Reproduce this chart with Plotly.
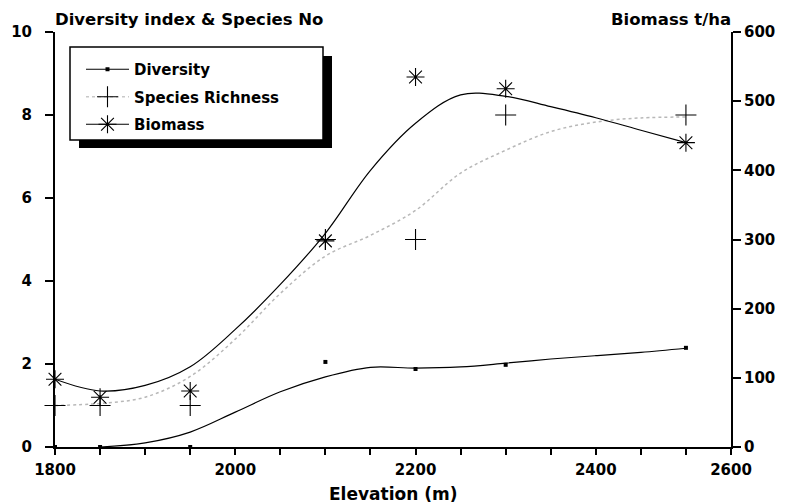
import plotly.graph_objects as go

# Observed values
elevation = [1800, 1850, 1950, 2100, 2200, 2300, 2500]
diversity = [0, 0, 0, 2.05, 1.88, 1.98, 2.39]
species_richness = [1, 1, 1, 5, 5, 8, 8]
biomass = [98, 72, 81, 298, 535, 518, 440]

# Fitted curves
curve_elev = [1800, 1850, 1900, 1950, 2000, 2050, 2100, 2150, 2200, 2250, 2300, 2350, 2400, 2450, 2500]
diversity_fit = [None, 0, 0.1, 0.36, 0.84, 1.33, 1.69, 1.92, 1.9, 1.93, 2.02, 2.12, 2.2, 2.28, 2.38]
species_fit = [1.0, 1.05, 1.2, 1.7, 2.6, 3.7, 4.6, 5.1, 5.7, 6.6, 7.15, 7.6, 7.83, 7.93, 7.95]
biomass_fit = [98, 81, 89, 116, 170, 235, 309, 400, 468, 509, 507, 492, 476, 458, 440]

x_tickvals = [1800, 1850, 1900, 1950, 2000, 2050, 2100, 2150, 2200, 2250, 2300, 2350, 2400, 2450, 2500, 2550]
x_ticktext = ["1800", "", "", "", "2000", "", "", "", "2200", "", "", "", "2400", "", "", "2600"]

FONT = "DejaVu Sans"
tickfont = dict(family=FONT, size=15, color="black", weight="bold")

# the page body has an 8px margin; compensate so the plot lands where the reference has it
OFF = 8

fig = go.Figure()

# curves
fig.add_trace(go.Scatter(x=curve_elev, y=species_fit, mode="lines", line=dict(color="#b8b8b8", width=1.5, dash="dot", shape="spline"), showlegend=False, hoverinfo="skip"))
fig.add_trace(go.Scatter(x=curve_elev, y=diversity_fit, mode="lines", line=dict(color="black", width=1.2, shape="spline"), showlegend=False, hoverinfo="skip"))
fig.add_trace(go.Scatter(x=curve_elev, y=biomass_fit, mode="lines", yaxis="y2", line=dict(color="black", width=1.2, shape="spline"), showlegend=False, hoverinfo="skip"))

# points
fig.add_trace(go.Scatter(x=elevation, y=diversity, mode="markers", marker=dict(symbol="square", size=4, color="black"), showlegend=False, cliponaxis=False))
fig.add_trace(go.Scatter(x=elevation, y=species_richness, mode="markers", marker=dict(symbol="cross-thin-open", size=15, color="black", line=dict(color="black", width=1.1)), showlegend=False, cliponaxis=False))
fig.add_trace(go.Scatter(x=elevation, y=biomass, mode="markers", yaxis="y2", marker=dict(symbol="asterisk-open", size=15, color="black", line=dict(color="black", width=1.1)), showlegend=False, cliponaxis=False))

# legend entries
fig.add_trace(go.Scatter(x=[None], y=[None], mode="lines+markers", name="Diversity", legendgroup="a",
                         line=dict(color="black", width=1.2), marker=dict(symbol="square", size=4, color="black")))
fig.add_trace(go.Scatter(x=[None], y=[None], mode="lines+markers", name="Species Richness", legendgroup="b",
                         line=dict(color="#c8c8c8", width=1.5, dash="dot"), marker=dict(symbol="cross-thin-open", size=15, color="black", line=dict(color="black", width=1.1))))
fig.add_trace(go.Scatter(x=[None], y=[None], mode="lines+markers", name="Biomass", legendgroup="c",
                         line=dict(color="black", width=1.2), marker=dict(symbol="asterisk-open", size=15, color="black", line=dict(color="black", width=1.1))))

def px_x(p):
    return (p - 55) / 676.0

def px_y(p):
    return (447 - p) / 415.0

shapes = [
    dict(type="rect", xref="paper", yref="paper", x0=px_x(79), x1=px_x(332), y0=px_y(148), y1=px_y(56),
         fillcolor="black", line=dict(width=0), layer="above"),
    dict(type="rect", xref="paper", yref="paper", x0=px_x(70), x1=px_x(323), y0=px_y(140), y1=px_y(47),
         fillcolor="white", line=dict(color="black", width=1.5), layer="above"),
]

annotations = [
    dict(text="Diversity index & Species No", xref="paper", yref="paper", x=px_x(53), y=1, xanchor="left", yanchor="middle",
         yshift=13, showarrow=False, font=dict(family=FONT, size=16.5, color="black", weight="bold")),
    dict(text="Biomass t/ha", xref="paper", yref="paper", x=px_x(733), y=1, xanchor="right", yanchor="middle",
         yshift=13, showarrow=False, font=dict(family=FONT, size=16.5, color="black", weight="bold")),
    dict(text="Elevation (m)", xref="paper", yref="paper", x=px_x(393), y=0, xanchor="center", yanchor="top",
         yshift=-35, showarrow=False, font=dict(family=FONT, size=17, color="black", weight="bold")),
]

fig.update_layout(
    width=791 - OFF, height=504 - OFF,
    margin=dict(l=55 - OFF, r=60, t=32 - OFF, b=57, autoexpand=False),
    paper_bgcolor="white", plot_bgcolor="white",
    showlegend=True,
    legend=dict(x=px_x(81), y=px_y(53), xanchor="left", yanchor="top", bgcolor="rgba(0,0,0,0)", borderwidth=0,
                font=dict(family=FONT, size=15, color="black", weight="bold"), tracegroupgap=5, itemwidth=43),
    xaxis=dict(range=[1800, 2550], tickvals=x_tickvals, ticktext=x_ticktext, ticks="outside", ticklen=6, tickwidth=1.5,
               tickcolor="black", showline=True, linecolor="black", linewidth=2, showgrid=False, zeroline=False,
               tickfont=tickfont, ticklabelstandoff=2),
    yaxis=dict(range=[0, 10], dtick=2, ticks="outside", ticklen=8, tickwidth=1.5, tickcolor="black", showline=True,
               linecolor="black", linewidth=2, showgrid=False, zeroline=False, tickfont=tickfont, ticklabelstandoff=10),
    yaxis2=dict(range=[0, 600], dtick=100, overlaying="y", side="right", ticks="outside", ticklen=8, tickwidth=1.5,
                tickcolor="black", showline=True, linecolor="black", linewidth=2, showgrid=False, zeroline=False,
                tickfont=tickfont),
    shapes=shapes,
    annotations=annotations,
)

fig.write_html("out.html")
